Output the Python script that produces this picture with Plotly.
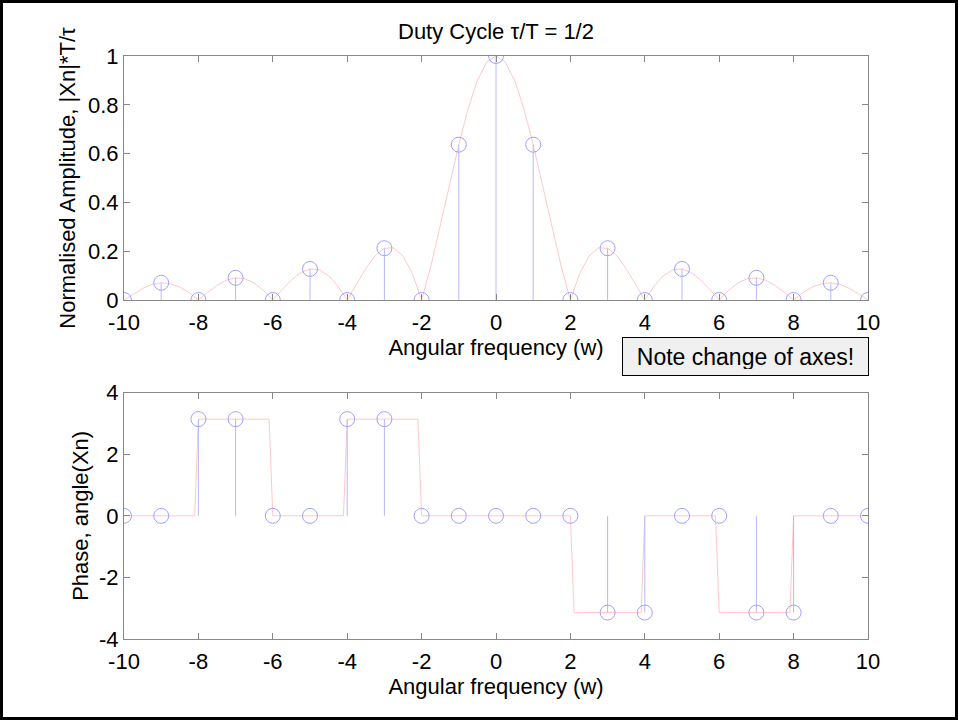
import plotly.graph_objects as go
from plotly.subplots import make_subplots

# harmonic index n and the stem values
n_values = [-10, -9, -8, -7, -6, -5, -4, -3, -2, -1, 0, 1, 2, 3, 4, 5, 6, 7, 8, 9, 10]
amplitude = [0.0, 0.0707, 0.0, 0.0909, 0.0, 0.1273, 0.0, 0.2122, 0.0, 0.6366, 1.0,
             0.6366, 0.0, 0.2122, 0.0, 0.1273, 0.0, 0.0909, 0.0, 0.0707, 0.0]
phase = [0.0, 0.0, 3.1416, 3.1416, 0.0, 0.0, 3.1416, 3.1416, 0.0, 0.0, 0.0,
         0.0, 0.0, -3.1416, -3.1416, 0.0, 0.0, -3.1416, -3.1416, 0.0, 0.0]

# continuous envelope (step 0.25)
w_fine = [i * 0.25 for i in range(-40, 41)]
envelope = [
    0.0, 0.0250, 0.0474, 0.0636, 0.0707, 0.0672, 0.0530, 0.0295,
    0.0, 0.0314, 0.0600, 0.0811, 0.0909, 0.0871, 0.0693, 0.0390,
    0.0, 0.0424, 0.0818, 0.1120, 0.1273, 0.1238, 0.1000, 0.0573,
    0.0, 0.0650, 0.1286, 0.1810, 0.2122, 0.2139, 0.1801, 0.1083,
    0.0, 0.1392, 0.3001, 0.4705, 0.6366, 0.7842, 0.9003, 0.9745,
    1.0,
    0.9745, 0.9003, 0.7842, 0.6366, 0.4705, 0.3001, 0.1392, 0.0,
    0.1083, 0.1801, 0.2139, 0.2122, 0.1810, 0.1286, 0.0650, 0.0,
    0.0573, 0.1000, 0.1238, 0.1273, 0.1120, 0.0818, 0.0424, 0.0,
    0.0390, 0.0693, 0.0871, 0.0909, 0.0811, 0.0600, 0.0314, 0.0,
    0.0295, 0.0530, 0.0672, 0.0707, 0.0636, 0.0474, 0.0250, 0.0,
]

# continuous phase line breakpoints
phase_w = [-10, -8.1, -8.0, -6.1, -6.0, -4.1, -4.0, -2.1, -2.0,
           2.0, 2.1, 3.9, 4.0, 5.9, 6.0, 7.9, 8.0, 10]
phase_line = [0, 0, 3.1416, 3.1416, 0, 0, 3.1416, 3.1416, 0,
              0, -3.1416, -3.1416, 0, 0, -3.1416, -3.1416, 0, 0]

# tick positions / labels (plain hyphen minus like the original)
x_ticks = [-10, -8, -6, -4, -2, 0, 2, 4, 6, 8, 10]
x_tick_labels = ["-10", "-8", "-6", "-4", "-2", "0", "2", "4", "6", "8", "10"]
amp_ticks = [0, 0.2, 0.4, 0.6, 0.8, 1]
amp_tick_labels = ["0", "0.2", "0.4", "0.6", "0.8", "1"]
phase_ticks = [-4, -2, 0, 2, 4]
phase_tick_labels = ["-4", "-2", "0", "2", "4"]

FONT = "Liberation Sans, Arial, Helvetica, sans-serif"
STEM_COLOR = "#b8b8ff"
MARKER_COLOR = "#a0a0ff"
CURVE_COLOR = "#ffc8c8"
AXIS_COLOR = "#888888"
TXT = dict(size=22, color="black", family=FONT)


def stem_xy(xs, ys):
    sx, sy = [], []
    for x, y in zip(xs, ys):
        sx += [x, x, None]
        sy += [0, y, None]
    return sx, sy


fig = make_subplots(rows=2, cols=1, vertical_spacing=0.0)

# top: amplitude
fig.add_trace(go.Scatter(x=w_fine, y=envelope, mode="lines",
                         line=dict(color=CURVE_COLOR, width=1)), row=1, col=1)
sx, sy = stem_xy(n_values, amplitude)
fig.add_trace(go.Scatter(x=sx, y=sy, mode="lines",
                         line=dict(color=STEM_COLOR, width=1)), row=1, col=1)
fig.add_trace(go.Scatter(x=n_values, y=amplitude, mode="markers",
                         marker=dict(symbol="circle-open", size=15,
                                     color=MARKER_COLOR, line=dict(width=1))),
              row=1, col=1)

# bottom: phase
fig.add_trace(go.Scatter(x=phase_w, y=phase_line, mode="lines",
                         line=dict(color=CURVE_COLOR, width=1)), row=2, col=1)
sx, sy = stem_xy(n_values, phase)
fig.add_trace(go.Scatter(x=sx, y=sy, mode="lines",
                         line=dict(color=STEM_COLOR, width=1)), row=2, col=1)
fig.add_trace(go.Scatter(x=n_values, y=phase, mode="markers",
                         marker=dict(symbol="circle-open", size=15,
                                     color=MARKER_COLOR, line=dict(width=1))),
              row=2, col=1)

axis_style = dict(
    showline=True, linecolor=AXIS_COLOR, linewidth=1, mirror="ticks",
    ticks="inside", ticklen=6, tickcolor=AXIS_COLOR, showgrid=False,
    zeroline=False, tickfont=TXT,
)

fig.update_xaxes(axis_style)
fig.update_yaxes(axis_style)

fig.update_xaxes(range=[-10, 10], tickmode="array", tickvals=x_ticks,
                 ticktext=x_tick_labels, ticklabelstandoff=3,
                 title=dict(text="Angular frequency (w)", standoff=5, font=TXT))
fig.update_yaxes(range=[0, 1], tickmode="array", tickvals=amp_ticks,
                 ticktext=amp_tick_labels, row=1, col=1,
                 title=dict(text="Normalised Amplitude, |Xn|*T/τ", standoff=6,
                            font=TXT))
fig.update_yaxes(range=[-4, 4], tickmode="array", tickvals=phase_ticks,
                 ticktext=phase_tick_labels, row=2, col=1,
                 title=dict(text="Phase, angle(Xn)", standoff=4, font=TXT))

fig.update_layout(yaxis=dict(domain=[0.5815, 1.0]),
                  yaxis2=dict(domain=[0.0, 0.4225]))

L, R, T, B = 124, 90, 56, 81
W, H = 958, 720
pw, ph = W - L - R, H - T - B

fig.add_shape(type="rect", xref="paper", yref="paper",
              x0=(1.5 - L) / pw, x1=(W - 1.5 - L) / pw,
              y0=(H - B - (H - 1.5)) / ph, y1=(H - B - 1.5) / ph,
              line=dict(color="black", width=3), layer="above")

fig.add_annotation(text="Note change of axes!", xref="paper", yref="paper",
                   x=(745.5 - L) / pw, y=(H - B - 356.5) / ph,
                   xanchor="center", yanchor="middle", showarrow=False,
                   font=dict(size=23, color="black", family=FONT),
                   bgcolor="#f0f0f0", bordercolor="black", borderwidth=1,
                   borderpad=6, width=233, height=25)

fig.update_layout(
    width=W, height=H,
    margin=dict(l=L, r=R, t=T, b=B),
    showlegend=False,
    plot_bgcolor="white", paper_bgcolor="white",
    title=dict(text="Duty Cycle τ/T = 1/2", x=0.5, xref="paper",
               y=1 - 31 / H, yanchor="middle", font=TXT),
    font=dict(family=FONT, color="black"),
)

fig.write_html("out.html", config={"displayModeBar": False},
               post_script="document.body.style.margin='0px';")
